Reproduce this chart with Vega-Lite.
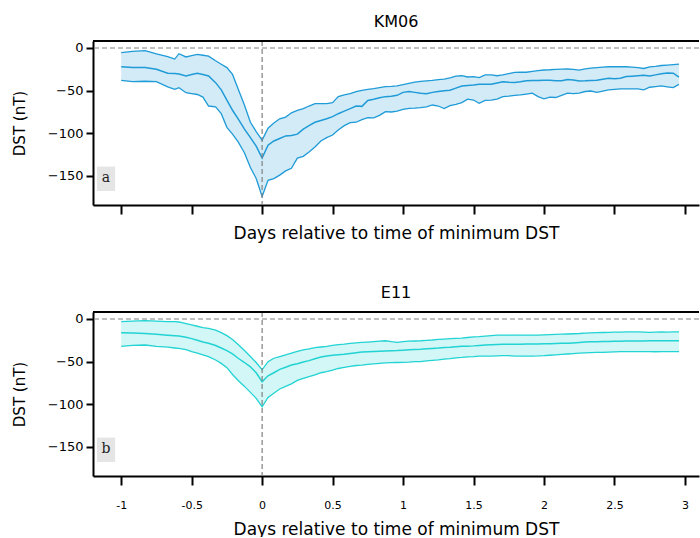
{
  "$schema": "https://vega.github.io/schema/vega-lite/v6.json",
  "padding": {"left": 12, "top": 14, "right": 0, "bottom": 0},
  "spacing": 44,
  "config": {
    "font": "DejaVu Sans",
    "view": {"stroke": null},
    "axis": {"domainColor": "black", "domainWidth": 2, "tickColor": "black", "tickWidth": 2, "grid": false, "labelColor": "black", "titleColor": "black", "titleFontWeight": "normal"},
    "title": {"fontSize": 16, "fontWeight": "normal", "offset": 10, "color": "black"}
  },
  "datasets": {
    "km06": [
      {"d": -1, "hi": -5.5, "mid": -22, "lo": -38},
      {"d": -0.92, "hi": -4, "mid": -23, "lo": -39.5},
      {"d": -0.83, "hi": -3, "mid": -23, "lo": -39},
      {"d": -0.75, "hi": -7, "mid": -25, "lo": -39.5},
      {"d": -0.67, "hi": -10, "mid": -29.5, "lo": -45.5},
      {"d": -0.62, "hi": -13, "mid": -30, "lo": -48.5},
      {"d": -0.59, "hi": -6.7, "mid": -30.5, "lo": -46.5},
      {"d": -0.54, "hi": -10.5, "mid": -32.8, "lo": -52.4},
      {"d": -0.5, "hi": -9, "mid": -31, "lo": -53.5},
      {"d": -0.46, "hi": -7.5, "mid": -29.7, "lo": -54.5},
      {"d": -0.42, "hi": -8.5, "mid": -31, "lo": -57.5},
      {"d": -0.38, "hi": -9.5, "mid": -32.8, "lo": -68},
      {"d": -0.33, "hi": -15, "mid": -40.6, "lo": -69},
      {"d": -0.29, "hi": -19, "mid": -49, "lo": -77},
      {"d": -0.25, "hi": -23, "mid": -61, "lo": -93},
      {"d": -0.21, "hi": -31, "mid": -73, "lo": -101},
      {"d": -0.17, "hi": -48, "mid": -83, "lo": -110},
      {"d": -0.125, "hi": -67, "mid": -95, "lo": -123},
      {"d": -0.083, "hi": -87, "mid": -105, "lo": -140},
      {"d": -0.042, "hi": -98, "mid": -115, "lo": -153},
      {"d": 0, "hi": -108, "mid": -129, "lo": -174},
      {"d": 0.042, "hi": -94, "mid": -114, "lo": -155},
      {"d": 0.083, "hi": -88, "mid": -109, "lo": -153},
      {"d": 0.125, "hi": -83, "mid": -106, "lo": -149},
      {"d": 0.167, "hi": -81, "mid": -103, "lo": -144},
      {"d": 0.208, "hi": -76, "mid": -102.5, "lo": -141},
      {"d": 0.25, "hi": -73, "mid": -101, "lo": -129},
      {"d": 0.292, "hi": -71, "mid": -95, "lo": -127},
      {"d": 0.333, "hi": -68, "mid": -91, "lo": -122},
      {"d": 0.375, "hi": -65.3, "mid": -87, "lo": -116},
      {"d": 0.417, "hi": -65.3, "mid": -85, "lo": -109},
      {"d": 0.458, "hi": -65.3, "mid": -83, "lo": -105},
      {"d": 0.5, "hi": -64, "mid": -80.5, "lo": -102},
      {"d": 0.54, "hi": -57, "mid": -77, "lo": -96},
      {"d": 0.583, "hi": -55, "mid": -74, "lo": -91},
      {"d": 0.625, "hi": -53.5, "mid": -71, "lo": -87.5},
      {"d": 0.667, "hi": -51, "mid": -68, "lo": -87},
      {"d": 0.708, "hi": -49.6, "mid": -68.4, "lo": -84},
      {"d": 0.75, "hi": -48.5, "mid": -61.5, "lo": -81.7},
      {"d": 0.792, "hi": -47.6, "mid": -60, "lo": -82},
      {"d": 0.833, "hi": -46.5, "mid": -58.2, "lo": -79},
      {"d": 0.875, "hi": -45.3, "mid": -57, "lo": -74.6},
      {"d": 0.917, "hi": -45, "mid": -56.5, "lo": -75},
      {"d": 0.958, "hi": -44.5, "mid": -55.5, "lo": -74},
      {"d": 1.0, "hi": -43, "mid": -52, "lo": -72},
      {"d": 1.042, "hi": -41.5, "mid": -51, "lo": -70.7},
      {"d": 1.083, "hi": -40, "mid": -52, "lo": -70.5},
      {"d": 1.125, "hi": -39, "mid": -53, "lo": -70},
      {"d": 1.167, "hi": -38.5, "mid": -53.5, "lo": -69},
      {"d": 1.208, "hi": -38, "mid": -52, "lo": -66.8},
      {"d": 1.25, "hi": -37, "mid": -51, "lo": -68},
      {"d": 1.292, "hi": -36.5, "mid": -50, "lo": -71},
      {"d": 1.333, "hi": -35, "mid": -49.6, "lo": -67.5},
      {"d": 1.375, "hi": -33, "mid": -47, "lo": -66},
      {"d": 1.417, "hi": -32.5, "mid": -44.5, "lo": -64},
      {"d": 1.458, "hi": -34, "mid": -44, "lo": -60},
      {"d": 1.5, "hi": -33.5, "mid": -43.5, "lo": -61},
      {"d": 1.54, "hi": -34.8, "mid": -42.6, "lo": -64.9},
      {"d": 1.583, "hi": -31.5, "mid": -42.6, "lo": -61.5},
      {"d": 1.625, "hi": -31.5, "mid": -42.6, "lo": -61},
      {"d": 1.667, "hi": -32.5, "mid": -41, "lo": -60},
      {"d": 1.708, "hi": -31.5, "mid": -39.5, "lo": -57},
      {"d": 1.75, "hi": -30, "mid": -40, "lo": -56.5},
      {"d": 1.792, "hi": -28.5, "mid": -40.3, "lo": -55.5},
      {"d": 1.833, "hi": -28.2, "mid": -39.5, "lo": -55},
      {"d": 1.875, "hi": -28.4, "mid": -38.5, "lo": -54},
      {"d": 1.917, "hi": -27.5, "mid": -38, "lo": -53},
      {"d": 1.958, "hi": -26.5, "mid": -38, "lo": -57},
      {"d": 2.0, "hi": -25.8, "mid": -37.9, "lo": -59.5},
      {"d": 2.042, "hi": -25.5, "mid": -37.9, "lo": -57.5},
      {"d": 2.083, "hi": -25, "mid": -38.5, "lo": -58},
      {"d": 2.125, "hi": -24.8, "mid": -38.5, "lo": -55.5},
      {"d": 2.167, "hi": -24.6, "mid": -37, "lo": -53},
      {"d": 2.208, "hi": -25, "mid": -37.5, "lo": -53.5},
      {"d": 2.25, "hi": -26, "mid": -38.7, "lo": -53},
      {"d": 2.292, "hi": -24.5, "mid": -38.5, "lo": -51},
      {"d": 2.333, "hi": -23.5, "mid": -38, "lo": -50.4},
      {"d": 2.375, "hi": -23, "mid": -37.9, "lo": -52},
      {"d": 2.417, "hi": -22.5, "mid": -36.5, "lo": -50.5},
      {"d": 2.458, "hi": -22, "mid": -35.5, "lo": -49},
      {"d": 2.5, "hi": -22, "mid": -36, "lo": -48.5},
      {"d": 2.542, "hi": -22, "mid": -35.5, "lo": -48},
      {"d": 2.583, "hi": -22, "mid": -33.5, "lo": -48},
      {"d": 2.625, "hi": -22.5, "mid": -33, "lo": -48},
      {"d": 2.667, "hi": -23, "mid": -32.5, "lo": -48},
      {"d": 2.708, "hi": -24, "mid": -32, "lo": -49},
      {"d": 2.75, "hi": -22, "mid": -32.8, "lo": -46},
      {"d": 2.792, "hi": -21.5, "mid": -31.5, "lo": -45.3},
      {"d": 2.833, "hi": -20.5, "mid": -30.3, "lo": -44.5},
      {"d": 2.875, "hi": -20, "mid": -29.3, "lo": -45.5},
      {"d": 2.917, "hi": -19.5, "mid": -29.5, "lo": -46.5},
      {"d": 2.958, "hi": -19, "mid": -34, "lo": -42.6}
    ],
    "e11": [
      {"d": -1, "hi": -3, "mid": -16, "lo": -32},
      {"d": -0.92, "hi": -2.5, "mid": -16.5, "lo": -31},
      {"d": -0.83, "hi": -2, "mid": -17, "lo": -30.5},
      {"d": -0.75, "hi": -2.5, "mid": -18, "lo": -32},
      {"d": -0.67, "hi": -3, "mid": -19, "lo": -33},
      {"d": -0.62, "hi": -3, "mid": -19.5, "lo": -34},
      {"d": -0.59, "hi": -3.5, "mid": -20, "lo": -34.5},
      {"d": -0.54, "hi": -5.5, "mid": -21.5, "lo": -36},
      {"d": -0.5, "hi": -7, "mid": -23, "lo": -38.3},
      {"d": -0.46, "hi": -8.5, "mid": -25, "lo": -40},
      {"d": -0.42, "hi": -10, "mid": -27, "lo": -42},
      {"d": -0.38, "hi": -11, "mid": -28.5, "lo": -44.2},
      {"d": -0.33, "hi": -13, "mid": -31, "lo": -48},
      {"d": -0.29, "hi": -16, "mid": -34, "lo": -52},
      {"d": -0.25, "hi": -19.5, "mid": -37, "lo": -57},
      {"d": -0.21, "hi": -24, "mid": -41, "lo": -65},
      {"d": -0.17, "hi": -30, "mid": -46, "lo": -72},
      {"d": -0.125, "hi": -37, "mid": -51, "lo": -79},
      {"d": -0.083, "hi": -44, "mid": -56, "lo": -86},
      {"d": -0.042, "hi": -51, "mid": -63, "lo": -93},
      {"d": 0, "hi": -59.5, "mid": -73.5, "lo": -103},
      {"d": 0.042, "hi": -50, "mid": -66.5, "lo": -92},
      {"d": 0.083, "hi": -46, "mid": -63, "lo": -87},
      {"d": 0.125, "hi": -44, "mid": -59, "lo": -82},
      {"d": 0.167, "hi": -42, "mid": -56.5, "lo": -79},
      {"d": 0.208, "hi": -40, "mid": -54, "lo": -76},
      {"d": 0.25, "hi": -38, "mid": -52.5, "lo": -72},
      {"d": 0.292, "hi": -36.3, "mid": -50.5, "lo": -69.5},
      {"d": 0.333, "hi": -35, "mid": -48.8, "lo": -67.6},
      {"d": 0.375, "hi": -33.5, "mid": -46.5, "lo": -65.5},
      {"d": 0.417, "hi": -32.8, "mid": -44.5, "lo": -63},
      {"d": 0.458, "hi": -32, "mid": -43.4, "lo": -61.8},
      {"d": 0.5, "hi": -31, "mid": -42.5, "lo": -60},
      {"d": 0.54, "hi": -30, "mid": -42, "lo": -58},
      {"d": 0.583, "hi": -29.5, "mid": -41.4, "lo": -56.7},
      {"d": 0.625, "hi": -28.5, "mid": -40.5, "lo": -55.5},
      {"d": 0.667, "hi": -28, "mid": -39.5, "lo": -54.5},
      {"d": 0.708, "hi": -27.5, "mid": -38.8, "lo": -54},
      {"d": 0.75, "hi": -27, "mid": -38.3, "lo": -53.2},
      {"d": 0.792, "hi": -26.5, "mid": -38, "lo": -52.5},
      {"d": 0.833, "hi": -26, "mid": -37.8, "lo": -52},
      {"d": 0.875, "hi": -25.5, "mid": -37.5, "lo": -51.5},
      {"d": 0.917, "hi": -26.5, "mid": -37.1, "lo": -51.2},
      {"d": 0.958, "hi": -27.3, "mid": -37, "lo": -51},
      {"d": 1.0, "hi": -26.5, "mid": -36.5, "lo": -50.8},
      {"d": 1.042, "hi": -26, "mid": -36, "lo": -50.5},
      {"d": 1.083, "hi": -25.8, "mid": -35.7, "lo": -50},
      {"d": 1.125, "hi": -25.5, "mid": -35.5, "lo": -50},
      {"d": 1.167, "hi": -25, "mid": -35, "lo": -49},
      {"d": 1.208, "hi": -24.6, "mid": -34.5, "lo": -48.5},
      {"d": 1.25, "hi": -24, "mid": -34, "lo": -48},
      {"d": 1.292, "hi": -23.5, "mid": -33.3, "lo": -47},
      {"d": 1.333, "hi": -23, "mid": -33, "lo": -46.5},
      {"d": 1.375, "hi": -22.8, "mid": -32.5, "lo": -45.5},
      {"d": 1.417, "hi": -22.5, "mid": -32, "lo": -45},
      {"d": 1.458, "hi": -21.7, "mid": -31.8, "lo": -44.3},
      {"d": 1.5, "hi": -21, "mid": -31.5, "lo": -44},
      {"d": 1.54, "hi": -20.7, "mid": -31, "lo": -43.5},
      {"d": 1.583, "hi": -20, "mid": -30.5, "lo": -43.5},
      {"d": 1.625, "hi": -19.5, "mid": -30.3, "lo": -43.5},
      {"d": 1.667, "hi": -19, "mid": -30, "lo": -43.2},
      {"d": 1.708, "hi": -18.8, "mid": -29.7, "lo": -43},
      {"d": 1.75, "hi": -18.8, "mid": -29.5, "lo": -43},
      {"d": 1.792, "hi": -19, "mid": -29.5, "lo": -43.5},
      {"d": 1.833, "hi": -19, "mid": -29.5, "lo": -43.5},
      {"d": 1.875, "hi": -18.8, "mid": -29.3, "lo": -43.4},
      {"d": 1.917, "hi": -18.8, "mid": -29.3, "lo": -43.4},
      {"d": 1.958, "hi": -18.8, "mid": -29.3, "lo": -43.3},
      {"d": 2.0, "hi": -18.5, "mid": -29, "lo": -43},
      {"d": 2.042, "hi": -18.2, "mid": -29, "lo": -42.5},
      {"d": 2.083, "hi": -18, "mid": -28.8, "lo": -42},
      {"d": 2.125, "hi": -17.8, "mid": -28.5, "lo": -41.5},
      {"d": 2.167, "hi": -17.6, "mid": -28.5, "lo": -41},
      {"d": 2.208, "hi": -17.3, "mid": -28, "lo": -40.5},
      {"d": 2.25, "hi": -17, "mid": -27.5, "lo": -40},
      {"d": 2.292, "hi": -16.5, "mid": -27, "lo": -39.8},
      {"d": 2.333, "hi": -16.2, "mid": -26.8, "lo": -39.5},
      {"d": 2.375, "hi": -16, "mid": -26.6, "lo": -39.2},
      {"d": 2.417, "hi": -15.8, "mid": -26.5, "lo": -39},
      {"d": 2.458, "hi": -15.7, "mid": -26.3, "lo": -38.8},
      {"d": 2.5, "hi": -15.5, "mid": -26.2, "lo": -38.5},
      {"d": 2.542, "hi": -15.3, "mid": -26, "lo": -38.3},
      {"d": 2.583, "hi": -15.2, "mid": -25.9, "lo": -38.3},
      {"d": 2.625, "hi": -15.2, "mid": -25.8, "lo": -38.3},
      {"d": 2.667, "hi": -15.2, "mid": -25.8, "lo": -38.3},
      {"d": 2.708, "hi": -15.4, "mid": -25.8, "lo": -38.3},
      {"d": 2.75, "hi": -15.6, "mid": -25.6, "lo": -38.3},
      {"d": 2.792, "hi": -15.4, "mid": -25.5, "lo": -38.4},
      {"d": 2.833, "hi": -15.2, "mid": -25.5, "lo": -38.3},
      {"d": 2.875, "hi": -15.4, "mid": -25.4, "lo": -38.3},
      {"d": 2.917, "hi": -15.2, "mid": -25.4, "lo": -38.3},
      {"d": 2.958, "hi": -15.2, "mid": -25.4, "lo": -38.3}
    ]
  },
  "vconcat": [
    {
      "title": "KM06",
      "width": 606,
      "height": 164,
      "layer": [
        {
          "data": {"name": "km06"},
          "mark": {"type": "area", "color": "#1f9bd7", "opacity": 0.2},
          "encoding": {
            "x": {"field": "d", "type": "quantitative", "scale": {"domain": [-1.2, 3.1], "nice": false, "zero": false},
                  "axis": {"values": [-1, -0.5, 0, 0.5, 1, 1.5, 2, 2.5, 3], "labels": false, "tickSize": 9, "title": "Days relative to time of minimum DST", "titleFontSize": 17, "titlePadding": 10}},
            "y": {"field": "lo", "type": "quantitative", "scale": {"domain": [-184, 8.2], "nice": false},
                  "axis": {"values": [-150, -100, -50, 0], "tickSize": 7, "labelFontSize": 13, "labelPadding": 3, "title": "DST (nT)", "titleFontSize": 15, "titlePadding": 20}},
            "y2": {"field": "hi"}
          }
        },
        {
          "data": {"name": "km06"},
          "mark": {"type": "line", "color": "#1f9bd7", "strokeWidth": 1.3},
          "encoding": {"x": {"field": "d", "type": "quantitative"}, "y": {"field": "lo", "type": "quantitative"}}
        },
        {
          "data": {"name": "km06"},
          "mark": {"type": "line", "color": "#1f9bd7", "strokeWidth": 1.3},
          "encoding": {"x": {"field": "d", "type": "quantitative"}, "y": {"field": "hi", "type": "quantitative"}}
        },
        {
          "data": {"name": "km06"},
          "mark": {"type": "line", "color": "#1f9bd7", "strokeWidth": 1.5},
          "encoding": {"x": {"field": "d", "type": "quantitative"}, "y": {"field": "mid", "type": "quantitative"}}
        },
        {
          "data": {"values": [{}]},
          "mark": {"type": "rule", "color": "#808080", "strokeDash": [5, 3], "strokeWidth": 1.2},
          "encoding": {"y": {"datum": 0}}
        },
        {
          "data": {"values": [{}]},
          "mark": {"type": "rule", "color": "#808080", "strokeDash": [5, 3], "strokeWidth": 1.2},
          "encoding": {"x": {"datum": 0}}
        },
        {
          "data": {"values": [{}]},
          "mark": {"type": "rule", "color": "black", "strokeWidth": 2},
          "encoding": {"y": {"datum": 8.2}}
        },
        {
          "data": {"values": [{}]},
          "mark": {"type": "rect", "color": "#e5e5e5"},
          "encoding": {"x": {"datum": -1.172}, "x2": {"datum": -1.043}, "y": {"datum": -139}, "y2": {"datum": -167.6}}
        },
        {
          "data": {"values": [{"label": "a"}]},
          "mark": {"type": "text", "font": "DejaVu Serif", "fontSize": 14, "color": "#222222"},
          "encoding": {"x": {"datum": -1.108}, "y": {"datum": -152}, "text": {"field": "label"}}
        }
      ]
    },
    {
      "title": "E11",
      "width": 606,
      "height": 164,
      "layer": [
        {
          "data": {"name": "e11"},
          "mark": {"type": "area", "color": "#22d3d3", "opacity": 0.2},
          "encoding": {
            "x": {"field": "d", "type": "quantitative", "scale": {"domain": [-1.2, 3.1], "nice": false, "zero": false},
                  "axis": {"values": [-1, -0.5, 0, 0.5, 1, 1.5, 2, 2.5, 3], "labelExpr": "toString(datum.value)", "labelFontSize": 11, "labelPadding": 14, "tickSize": 9, "title": "Days relative to time of minimum DST", "titleFontSize": 17, "titlePadding": 11}},
            "y": {"field": "lo", "type": "quantitative", "scale": {"domain": [-184, 8.2], "nice": false},
                  "axis": {"values": [-150, -100, -50, 0], "tickSize": 7, "labelFontSize": 13, "labelPadding": 3, "title": "DST (nT)", "titleFontSize": 15, "titlePadding": 20}},
            "y2": {"field": "hi"}
          }
        },
        {
          "data": {"name": "e11"},
          "mark": {"type": "line", "color": "#22d3d3", "strokeWidth": 1.3},
          "encoding": {"x": {"field": "d", "type": "quantitative"}, "y": {"field": "lo", "type": "quantitative"}}
        },
        {
          "data": {"name": "e11"},
          "mark": {"type": "line", "color": "#22d3d3", "strokeWidth": 1.3},
          "encoding": {"x": {"field": "d", "type": "quantitative"}, "y": {"field": "hi", "type": "quantitative"}}
        },
        {
          "data": {"name": "e11"},
          "mark": {"type": "line", "color": "#22d3d3", "strokeWidth": 1.5},
          "encoding": {"x": {"field": "d", "type": "quantitative"}, "y": {"field": "mid", "type": "quantitative"}}
        },
        {
          "data": {"values": [{}]},
          "mark": {"type": "rule", "color": "#808080", "strokeDash": [5, 3], "strokeWidth": 1.2},
          "encoding": {"y": {"datum": 0}}
        },
        {
          "data": {"values": [{}]},
          "mark": {"type": "rule", "color": "#808080", "strokeDash": [5, 3], "strokeWidth": 1.2},
          "encoding": {"x": {"datum": 0}}
        },
        {
          "data": {"values": [{}]},
          "mark": {"type": "rule", "color": "black", "strokeWidth": 2},
          "encoding": {"y": {"datum": 8.2}}
        },
        {
          "data": {"values": [{}]},
          "mark": {"type": "rect", "color": "#e5e5e5"},
          "encoding": {"x": {"datum": -1.172}, "x2": {"datum": -1.043}, "y": {"datum": -139}, "y2": {"datum": -167.6}}
        },
        {
          "data": {"values": [{"label": "b"}]},
          "mark": {"type": "text", "font": "DejaVu Serif", "fontSize": 14, "color": "#222222"},
          "encoding": {"x": {"datum": -1.108}, "y": {"datum": -152}, "text": {"field": "label"}}
        }
      ]
    }
  ]
}
